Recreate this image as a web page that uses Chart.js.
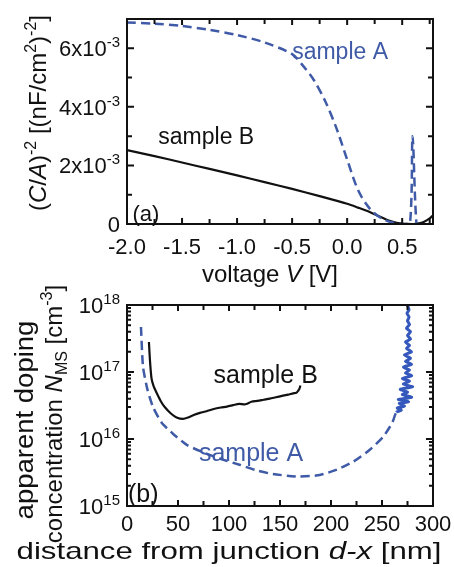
<!DOCTYPE html>
<html>
<head>
<meta charset="utf-8">
<script src="https://cdn.jsdelivr.net/npm/chart.js@4.4.1/dist/chart.umd.min.js"></script>
<style>
  html, body { margin: 0; padding: 0; background: #fff; }
  #wrap { position: relative; width: 454px; height: 567px; }
  canvas { position: absolute; left: 0; }
  #chartA { top: 0; }
  #chartB { top: 270px; }
</style>
</head>
<body>
<div id="wrap">
  <canvas id="chartA" width="454" height="290"></canvas>
  <canvas id="chartB" width="454" height="297"></canvas>
</div>
<script>
// panel (a) : (C/A)^-2 vs voltage
const voltA = [-2.0, -1.75, -1.5, -1.25, -1.0, -0.75, -0.5, -0.4, -0.3, -0.2, -0.1, 0.0, 0.1, 0.2, 0.3, 0.4, 0.5, 0.57, 0.594, 0.63, 0.66];
const capA  = [6.88e-3, 6.84e-3, 6.76e-3, 6.63e-3, 6.45e-3, 6.2e-3, 5.8e-3, 5.4e-3, 4.9e-3, 4.2e-3, 3.3e-3, 2.2e-3, 1.15e-3, 0.55e-3, 0.22e-3, 0.06e-3, 0, 0, 3.0e-3, 0, 0];
const voltB = [-2.0, -1.75, -1.5, -1.25, -1.0, -0.75, -0.5, -0.25, 0.0, 0.1, 0.2, 0.3, 0.4, 0.5, 0.6, 0.65, 0.7, 0.75, 0.78];
const capB  = [2.52e-3, 2.32e-3, 2.1e-3, 1.88e-3, 1.66e-3, 1.43e-3, 1.2e-3, 0.95e-3, 0.69e-3, 0.56e-3, 0.42e-3, 0.25e-3, 0.09e-3, 0.01e-3, 0, 0.02e-3, 0.08e-3, 0.19e-3, 0.3e-3];
const voltTicks = [-2.0, -1.5, -1.0, -0.5, 0.0, 0.5];
const voltTickLabels = ['-2.0', '-1.5', '-1.0', '-0.5', '0.0', '0.5'];
const capTicks = [0, 2e-3, 4e-3, 6e-3];
const capTickLabels = ['0', '2x10^{-3}', '4x10^{-3}', '6x10^{-3}'];

// panel (b) : apparent doping vs distance (sample A ends in a noisy band near 270 nm)
const distA = [13.7, 15.7, 20, 25.5, 34, 45, 59, 75, 91, 111, 127, 143, 168, 189, 206, 222, 238, 251, 260, 264,
               269, 265, 272, 267, 276, 266, 279, 270, 275, 268, 280, 271, 277, 270, 279, 273, 277, 271, 279, 273, 278, 272, 279, 274, 277, 273, 278, 275, 278, 274, 277, 275, 276.5, 274.5, 276.5, 275, 275.5];
const dopA  = [4.7e17, 1.2e17, 5.5e16, 3.0e16, 1.75e16, 1.2e16, 8.1e15, 6.3e15, 5.1e15, 4.1e15, 3.4e15, 3.0e15, 2.75e15, 2.9e15, 3.5e15, 4.6e15, 6.9e15, 1.07e16, 1.74e16, 2.5e16,
               2.7e16, 2.9e16, 3.1e16, 3.4e16, 3.6e16, 3.9e16, 4.2e16, 4.6e16, 5.0e16, 5.5e16, 6.0e16, 6.6e16, 7.3e16, 8.0e16, 8.8e16, 9.7e16, 1.07e17, 1.18e17, 1.3e17, 1.45e17, 1.6e17, 1.8e17, 2.0e17, 2.25e17, 2.5e17, 2.8e17, 3.1e17, 3.5e17, 4.0e17, 4.5e17, 5.1e17, 5.8e17, 6.6e17, 7.5e17, 8.5e17, 1e18, 1.4e18];
const distB = [21.5, 22.5, 24, 26, 29, 33, 37, 43, 48.6, 55, 60, 66, 71.5, 78, 85, 92, 98, 104, 110, 116, 122, 128, 134, 140, 146, 152, 158, 163, 166, 168, 169, 170];
const dopB  = [2.8e17, 1.5e17, 8.1e16, 6.2e16, 4.9e16, 3.7e16, 3.0e16, 2.4e16, 2.1e16, 2.0e16, 2.1e16, 2.3e16, 2.45e16, 2.6e16, 2.8e16, 2.95e16, 3.05e16, 3.2e16, 3.35e16, 3.3e16, 3.6e16, 3.7e16, 3.85e16, 4.0e16, 4.2e16, 4.4e16, 4.6e16, 4.8e16, 4.9e16, 5.3e16, 5.6e16, 6.3e16];
const distTicks = [0, 50, 100, 150, 200, 250, 300];
const distTickLabels = ['0', '50', '100', '150', '200', '250', '300'];
const dopTicks = [1e15, 1e16, 1e17, 1e18];
const dopTickLabels = ['10^{15}', '10^{16}', '10^{17}', '10^{18}'];

const BLUE = '#3f5aa6';
const BAND = '#3558bd';
const FAMILY = "'Liberation Sans', Arial, Helvetica, sans-serif";

// mini markup : *italic*, ^{sup}, _{sub}
function parseRich(str) {
  const segs = [];
  let it = false;
  let cur = { t: '', it: false };
  let i = 0;
  while (i < str.length) {
    const c = str[i];
    if (c === '*') {
      if (cur.t) segs.push(cur);
      it = !it;
      cur = { t: '', it: it };
      i++;
    } else if ((c === '^' || c === '_') && str[i + 1] === '{') {
      if (cur.t) segs.push(cur);
      const end = str.indexOf('}', i);
      segs.push({ t: str.slice(i + 2, end), it: it, sup: c === '^', sub: c === '_' });
      cur = { t: '', it: it };
      i = end + 1;
    } else {
      cur.t += c;
      i++;
    }
  }
  if (cur.t) segs.push(cur);
  return segs;
}

function drawRich(ctx, str, x, y, size, align, color, angle, stretch) {
  const segs = parseRich(str);
  const fontOf = s => (s.it ? 'italic ' : '') + Math.round((s.sup || s.sub) ? size * 0.66 : size) + 'px ' + FAMILY;
  ctx.save();
  ctx.translate(x, y);
  if (angle) ctx.rotate(angle);
  if (stretch) ctx.scale(stretch, 1);
  let w = 0;
  segs.forEach(s => { ctx.font = fontOf(s); s.w = ctx.measureText(s.t).width; w += s.w; });
  let cx = align === 'right' ? -w : (align === 'left' ? 0 : -w / 2);
  ctx.fillStyle = color;
  ctx.textAlign = 'left';
  ctx.textBaseline = 'alphabetic';
  segs.forEach(s => {
    ctx.font = fontOf(s);
    let dy = size * 0.36;
    if (s.sup) dy -= size * 0.42;
    if (s.sub) dy += size * 0.24;
    ctx.fillText(s.t, cx, dy);
    cx += s.w;
  });
  ctx.restore();
}

// frame, inward ticks, tick labels, titles, annotations
function decor(cfg) {
  return {
    id: 'decor',
    afterDatasetsDraw(chart) {
      const ctx = chart.ctx;
      const a = chart.chartArea;
      const xs = chart.scales.x, ys = chart.scales.y;
      ctx.save();
      ctx.strokeStyle = '#111';
      ctx.lineWidth = 2;
      ctx.beginPath();
      cfg.xMinor.forEach(v => {
        const p = xs.getPixelForValue(v);
        const len = cfg.xTicks.includes(v) ? 6 : 5;
        ctx.moveTo(p, a.bottom); ctx.lineTo(p, a.bottom - len);
        ctx.moveTo(p, a.top); ctx.lineTo(p, a.top + len);
      });
      cfg.yMinor.forEach(v => {
        const p = ys.getPixelForValue(v);
        const len = cfg.yTicks.includes(v) ? 7 : (cfg.log ? 4 : 5);
        ctx.moveTo(a.left, p); ctx.lineTo(a.left + len, p);
        ctx.moveTo(a.right, p); ctx.lineTo(a.right - len, p);
      });
      ctx.stroke();
      ctx.strokeRect(a.left, a.top, a.right - a.left, a.bottom - a.top);
      ctx.restore();

      cfg.xTicks.forEach((v, i) => {
        drawRich(ctx, cfg.xLabels[i], xs.getPixelForValue(v), a.bottom + cfg.xLabelGap, 22, 'center', '#111');
      });
      cfg.yTicks.forEach((v, i) => {
        drawRich(ctx, cfg.yLabels[i], a.left - 7, ys.getPixelForValue(v), 22, 'right', '#111');
      });
      cfg.titles.forEach(t => drawRich(ctx, t.text, t.x, t.y, t.size, 'center', '#111', t.angle, t.stretch));
      cfg.notes.forEach(n => {
        drawRich(ctx, n.text, xs.getPixelForValue(n.x), ys.getPixelForValue(n.y), n.size, n.align || 'center', n.color);
      });
    }
  };
}

function makeChart(id, datasets, xOpts, yOpts, padding, cfg) {
  const hidden = {
    ticks: { display: false },
    grid: { display: false },
    border: { display: false }
  };
  return new Chart(document.getElementById(id), {
    type: 'line',
    data: { datasets: datasets },
    options: {
      responsive: false,
      animation: false,
      layout: { padding: padding },
      plugins: { legend: { display: false }, tooltip: { enabled: false } },
      elements: { point: { radius: 0 } },
      scales: {
        x: Object.assign({}, hidden, xOpts, { afterFit: s => { s.height = 0; } }),
        y: Object.assign({}, hidden, yOpts, { afterFit: s => { s.width = 0; } })
      }
    },
    plugins: [decor(cfg)]
  });
}

function pairs(xs, ys) {
  return xs.map((x, i) => ({ x: x, y: ys[i] }));
}

function range(from, to, step) {
  const out = [];
  for (let v = from; v <= to + 1e-9; v += step) out.push(Math.round(v / step) * step);
  return out;
}

// ---- panel (a)
const minorV = range(-2.0, 0.75, 0.25).map(v => Math.round(v * 100) / 100);
const minorC = [0, 1e-3, 2e-3, 3e-3, 4e-3, 5e-3, 6e-3, 7e-3];

makeChart('chartA', [
  {
    data: pairs(voltA, capA),
    borderColor: BLUE, borderWidth: 2.5, borderDash: [9, 5], tension: 0.3
  },
  {
    data: pairs(voltB, capB),
    borderColor: '#111', borderWidth: 2.2, tension: 0.3
  }
], { type: 'linear', min: -2.0, max: 0.78 },
   { type: 'linear', min: 0, max: 7e-3 },
   { left: 127, right: 21, top: 19, bottom: 66 },
   {
     xTicks: voltTicks, xLabels: voltTickLabels, xMinor: minorV, xLabelGap: 22,
     yTicks: capTicks, yLabels: capTickLabels, yMinor: minorC,
     titles: [
       { text: 'voltage *V* [V]', x: 270, y: 273, size: 24 },
       { text: '(*C*/*A*)^{-2} [(nF/cm^{2})^{-2}]', x: 37, y: 113, size: 24, angle: -Math.PI / 2 }
     ],
     notes: [
       { text: 'sample A', x: -0.064, y: 5.93e-3, size: 23, color: BLUE },
       { text: 'sample B', x: -1.28, y: 3.0e-3, size: 23, color: '#111' },
       { text: '(a)', x: -1.95, y: 0.38e-3, size: 22, color: '#111', align: 'left' }
     ]
   });

// ---- panel (b)  (canvas starts at y = 270)
const minorD = range(0, 300, 25);
const minorN = [];
[15, 16, 17].forEach(e => {
  [1, 2, 3, 4, 5, 6, 7, 8, 9].forEach(m => minorN.push(m * Math.pow(10, e)));
});
minorN.push(1e18);
const bandStart = distA.indexOf(264);

makeChart('chartB', [
  {
    data: pairs(distA, dopA),
    borderColor: BLUE, borderWidth: 2.5, borderDash: [9, 5], tension: 0.2,
    segment: {
      borderDash: c => (c.p0DataIndex >= bandStart ? [] : undefined),
      borderColor: c => (c.p0DataIndex >= bandStart ? BAND : undefined),
      borderWidth: c => (c.p0DataIndex >= bandStart ? 3 : undefined)
    }
  },
  {
    data: pairs(distB, dopB),
    borderColor: '#111', borderWidth: 2.2, tension: 0.25
  }
], { type: 'linear', min: 0, max: 300 },
   { type: 'logarithmic', min: 1e15, max: 1e18 },
   { left: 127, right: 21, top: 35, bottom: 61 },
   {
     xTicks: distTicks, xLabels: distTickLabels, xMinor: minorD, xLabelGap: 17,
     yTicks: dopTicks, yLabels: dopTickLabels, yMinor: minorN, log: true,
     titles: [
       { text: 'distance from junction *d-x* [nm]', x: 229, y: 280, size: 24, stretch: 1.3 },
       { text: 'apparent doping', x: 24, y: 150, size: 25, angle: -Math.PI / 2, stretch: 1.1 },
       { text: 'concentration *N*_{MS} [cm^{-3}]', x: 53, y: 144, size: 24, angle: -Math.PI / 2 }
     ],
     notes: [
       { text: 'sample B', x: 136, y: 9.3e16, size: 25, color: '#111' },
       { text: 'sample A', x: 121.6, y: 6.3e15, size: 25, color: BLUE },
       { text: '(b)', x: 1, y: 1.55e15, size: 25, color: '#111', align: 'left' }
     ]
   });
</script>
</body>
</html>
